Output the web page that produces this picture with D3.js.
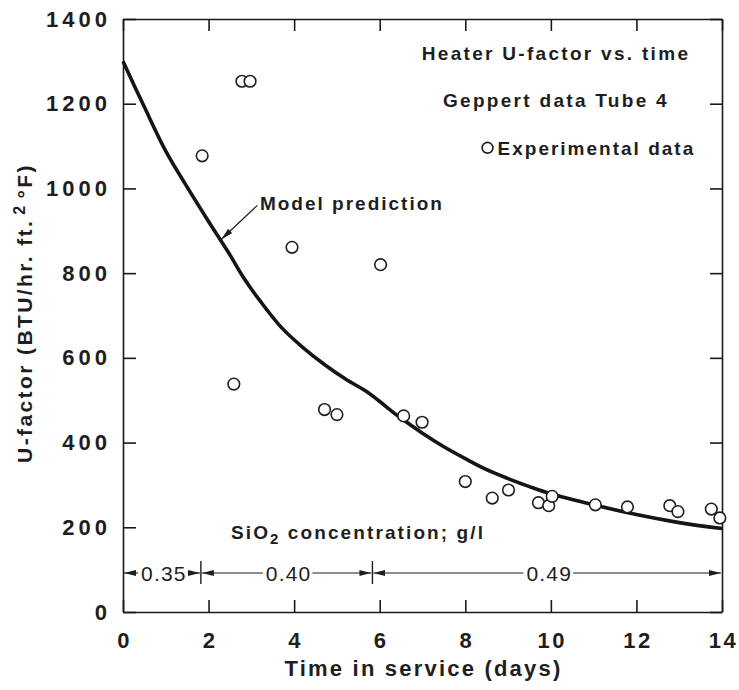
<!DOCTYPE html>
<head>
<style>
body { margin: 0; background: #fff; }
svg { font-family: "Liberation Sans", Arial, sans-serif; font-weight: bold; }
.axis path, .axis line { stroke: #1a1a1a; stroke-width: 1.6; }
.axis text { font-size: 22px; fill: #1e1e1e; letter-spacing: 4px; font-family: "Liberation Sans", Arial, sans-serif; font-weight: bold; }
</style>
<script src="https://d3js.org/d3.v7.min.js"></script>
</head>
<body>
<svg id="chart" width="739" height="690"></svg>
<script>

var width = 739;
var height = 690;
var margin = {top: 19, right: 17, bottom: 78, left: 123};

// model prediction curve (days, U-factor)
var modelDays = [0, 0.5, 1, 1.5, 2, 2.5, 2.8, 3.2, 3.7, 4.2, 4.7, 5.2, 5.7, 6.0, 6.4, 7, 7.5, 8, 8.5, 9, 9.5, 10, 11, 12, 13, 14];
var modelU = [1300, 1192, 1088, 1003, 922, 843, 792, 735, 672, 625, 585, 550, 520, 497, 465, 422, 390, 362, 336, 315, 296, 279, 253, 230, 211, 197];

// experimental data, Geppert tube 4
var expDays = [1.85, 2.78, 2.97, 2.59, 3.95, 6.02, 4.71, 5.0, 6.56, 6.99, 8.0, 8.63, 9.01, 9.71, 9.95, 10.03, 11.04, 11.79, 12.78, 12.97, 13.75, 13.95];
var expU = [1077, 1253, 1253, 538, 861, 820, 478, 466, 463, 448, 308, 269, 288, 258, 251, 273, 253, 248, 251, 237, 243, 222];

// SiO2 concentration periods
var periodBounds = [0, 1.82, 5.83, 14];
var periodLabels = ["0.35", "0.40", "0.49"];

var xTicks = [0, 2, 4, 6, 8, 10, 12, 14];
var yTicks = [0, 200, 400, 600, 800, 1000, 1200, 1400];

var ink = "#1e1e1e";

var svg = d3.select("#chart");

var x = d3.scaleLinear()
    .domain([0, 14])
    .range([margin.left, width - margin.right]);

var y = d3.scaleLinear()
    .domain([0, 1400])
    .range([height - margin.bottom, margin.top]);

// axes, ticks point inwards on all four sides
var xAxisG = svg.append("g")
    .attr("class", "axis")
    .attr("transform", "translate(0," + y(0) + ")")
    .call(d3.axisBottom(x).tickValues(xTicks).tickFormat(d3.format("d"))
        .tickSizeInner(-12).tickSizeOuter(0).tickPadding(20));
xAxisG.selectAll("text")
    .style("letter-spacing", "2.5px")
    .attr("dx", "1px");

var yAxisG = svg.append("g")
    .attr("class", "axis")
    .attr("transform", "translate(" + x(0) + ",0)")
    .call(d3.axisLeft(y).tickValues(yTicks).tickFormat(d3.format("d"))
        .tickSizeInner(-13).tickSizeOuter(0).tickPadding(12));

svg.append("g")
    .attr("class", "axis")
    .attr("transform", "translate(0," + y(1400) + ")")
    .call(d3.axisTop(x).tickValues(xTicks).tickSizeInner(-12).tickSizeOuter(0).tickFormat(""));

svg.append("g")
    .attr("class", "axis")
    .attr("transform", "translate(" + x(14) + ",0)")
    .call(d3.axisRight(y).tickValues(yTicks).tickSizeInner(-12).tickSizeOuter(0).tickFormat(""));

// axis titles
svg.append("text")
    .attr("x", (x(0) + x(14)) / 2 + 1)
    .attr("y", 676)
    .attr("text-anchor", "middle")
    .attr("font-size", 22)
    .attr("letter-spacing", 2.2)
    .attr("fill", ink)
    .text("Time in service (days)");

var yTitle = svg.append("text")
    .attr("transform", "translate(32," + 313 + ") rotate(-90)")
    .attr("text-anchor", "middle")
    .attr("font-size", 21)
    .attr("letter-spacing", 2.4)
    .attr("fill", ink);
yTitle.append("tspan").text("U-factor (BTU/hr. ft.");
yTitle.append("tspan").attr("dx", 4).attr("dy", -7).attr("font-size", 16).text("2");
yTitle.append("tspan").attr("dx", 5).attr("dy", 7).text("°F)");

// model curve
var line = d3.line()
    .x(function(d, i) { return x(modelDays[i]); })
    .y(function(d, i) { return y(modelU[i]); })
    .curve(d3.curveCatmullRom);

svg.append("path")
    .datum(modelDays)
    .attr("d", line)
    .attr("fill", "none")
    .attr("stroke", "#151515")
    .attr("stroke-width", 3.6)
    .attr("stroke-linejoin", "round");

// experimental points
svg.append("g")
    .selectAll("circle")
    .data(expDays)
    .enter().append("circle")
    .attr("cx", function(d) { return x(d); })
    .attr("cy", function(d, i) { return y(expU[i]); })
    .attr("r", 5.8)
    .attr("fill", "#fff")
    .attr("stroke", ink)
    .attr("stroke-width", 1.6);

// arrowhead marker
var defs = svg.append("defs");
defs.append("marker")
    .attr("id", "head")
    .attr("viewBox", "0 0 12 6")
    .attr("refX", 12)
    .attr("refY", 3)
    .attr("markerWidth", 12)
    .attr("markerHeight", 6)
    .attr("markerUnits", "userSpaceOnUse")
    .attr("orient", "auto")
    .append("path")
    .attr("d", "M0,0 L12,3 L0,6 Z")
    .attr("fill", ink);

// "Model prediction" label with leader arrow
svg.append("text")
    .attr("x", x(3.2))
    .attr("y", y(948))
    .attr("font-size", 19)
    .attr("letter-spacing", 2)
    .attr("fill", ink)
    .text("Model prediction");

svg.append("line")
    .attr("x1", x(3.14))
    .attr("y1", y(960))
    .attr("x2", x(2.3))
    .attr("y2", y(880))
    .attr("stroke", ink)
    .attr("stroke-width", 1.2)
    .attr("marker-end", "url(#head)");

// title block, top right
var titleX = 556;
svg.append("text")
    .attr("x", titleX)
    .attr("y", 60)
    .attr("text-anchor", "middle")
    .attr("font-size", 19)
    .attr("letter-spacing", 2.3)
    .attr("fill", ink)
    .text("Heater U-factor vs. time");

svg.append("text")
    .attr("x", titleX)
    .attr("y", 107)
    .attr("text-anchor", "middle")
    .attr("font-size", 19)
    .attr("letter-spacing", 2.3)
    .attr("fill", ink)
    .text("Geppert data Tube 4");

svg.append("circle")
    .attr("cx", x(8.52))
    .attr("cy", y(1096))
    .attr("r", 5.4)
    .attr("fill", "#fff")
    .attr("stroke", ink)
    .attr("stroke-width", 1.6);

svg.append("text")
    .attr("x", x(8.52) + 10)
    .attr("y", 155)
    .attr("font-size", 19)
    .attr("letter-spacing", 2)
    .attr("fill", ink)
    .text("Experimental data");

// SiO2 concentration annotation
var sio2 = svg.append("text")
    .attr("x", 231)
    .attr("y", 539)
    .attr("font-size", 19)
    .attr("letter-spacing", 2.1)
    .attr("fill", ink);
sio2.append("tspan").text("SiO");
sio2.append("tspan").attr("dy", 5).attr("font-size", 15).text("2");
sio2.append("tspan").attr("dy", -5).text(" concentration; g/l");

var bracketY = y(0) - 39;
var periods = periodLabels.map(function(lab, i) {
    return {label: lab, x0: periodBounds[i], x1: periodBounds[i + 1]};
});

var pg = svg.append("g");

pg.selectAll(".plabel")
    .data(periods)
    .enter().append("text")
    .attr("class", "plabel")
    .attr("x", function(d) { return x((d.x0 + d.x1) / 2) + 2; })
    .attr("y", bracketY + 8)
    .attr("text-anchor", "middle")
    .attr("font-size", 21)
    .attr("font-weight", "normal")
    .attr("letter-spacing", 1.2)
    .attr("fill", ink)
    .text(function(d) { return d.label; });

// arrowed lines from each label to the period bounds
pg.selectAll(".plabel").each(function(d) {
    var bb = this.getBBox();
    pg.append("line")
        .attr("x1", bb.x - 3).attr("x2", x(d.x0) + 1)
        .attr("y1", bracketY).attr("y2", bracketY)
        .attr("stroke", ink).attr("stroke-width", 1.1)
        .attr("marker-end", "url(#head)");
    pg.append("line")
        .attr("x1", bb.x + bb.width + 1).attr("x2", x(d.x1) - 1)
        .attr("y1", bracketY).attr("y2", bracketY)
        .attr("stroke", ink).attr("stroke-width", 1.1)
        .attr("marker-end", "url(#head)");
});

pg.selectAll(".pbar")
    .data(periodBounds.slice(1, -1))
    .enter().append("line")
    .attr("x1", function(d) { return x(d); })
    .attr("x2", function(d) { return x(d); })
    .attr("y1", bracketY - 12)
    .attr("y2", bracketY + 11)
    .attr("stroke", ink)
    .attr("stroke-width", 1.4);

</script>
</body>
</html>
